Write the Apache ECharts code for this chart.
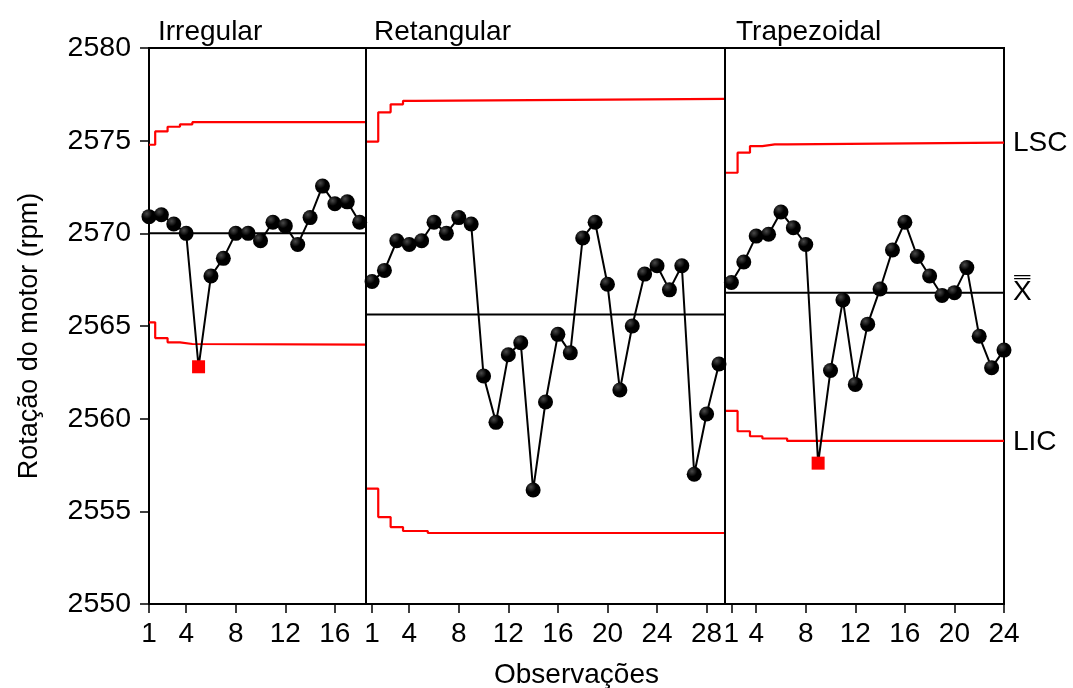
<!DOCTYPE html>
<html><head><meta charset="utf-8">
<script src="https://cdn.jsdelivr.net/npm/echarts@6/dist/echarts.min.js"></script>
<style>html,body{margin:0;padding:0;background:#fff}#c{width:1073px;height:688px}</style>
</head><body><div id="c"></div>
<script>
// ---- data ----
const panelNames = ['Irregular', 'Retangular', 'Trapezoidal'];
const irregular = [2570.9, 2571.0, 2570.5, 2570.0, 2562.8, 2567.7, 2568.65, 2570.0, 2570.0, 2569.6, 2570.6, 2570.4, 2569.4, 2570.85, 2572.55, 2571.6, 2571.7, 2570.6];
const retangular = [2567.4, 2568.0, 2569.6, 2569.4, 2569.6, 2570.6, 2570.0, 2570.85, 2570.5, 2562.3, 2559.8, 2563.45, 2564.1, 2556.15, 2560.9, 2564.55, 2563.55, 2569.75, 2570.6, 2567.25, 2561.55, 2565.0, 2567.8, 2568.25, 2566.95, 2568.25, 2557.0, 2560.25, 2562.95];
const trapezoidal = [2567.35, 2568.45, 2569.85, 2569.95, 2571.15, 2570.3, 2569.4, 2557.6, 2562.6, 2566.4, 2561.85, 2565.1, 2567.0, 2569.1, 2570.6, 2568.75, 2567.7, 2566.65, 2566.8, 2568.15, 2564.45, 2562.75, 2563.7];
const centerLines = [2570.0, 2565.62, 2566.79];
const uclIrregular = [2574.78, 2575.5, 2575.75, 2575.88, 2576.0];
const lclIrregular = [2565.2, 2564.35, 2564.12, 2564.03, 2564.0];
const uclRetangular = [2574.95, 2576.53, 2576.96, 2577.15, 2577.25];
const lclRetangular = [2556.22, 2554.69, 2554.15, 2553.94, 2553.94, 2553.83];
const uclTrapezoidal = [2573.27, 2574.35, 2574.71, 2574.8, 2574.8, 2574.89];
const lclTrapezoidal = [2560.42, 2559.32, 2559.05, 2558.93, 2558.93, 2558.8];
// tick labels: observation number within panel -> label text
const ticksIrregular = {1: '1', 4: '4', 8: '8', 12: '12', 16: '16'};
const ticksRetangular = {1: '1', 4: '4', 8: '8', 12: '12', 16: '16', 20: '20', 24: '24', 28: '28'};
const ticksTrapezoidal = {1: '1', 3: '4', 7: '8', 11: '12', 15: '16', 19: '20', 23: '24'};
const limitNames = {ucl: 'LSC', center: 'X\u033F', lcl: 'LIC'};
const yTitle = 'Rotação do motor (rpm)';
const xTitle = 'Observações';

// ---- build ----
const FONT = 'Liberation Sans, Arial, sans-serif';
const panelsRaw = [
  {name: panelNames[0], data: irregular, ucl: uclIrregular, lcl: lclIrregular, center: centerLines[0], ticks: ticksIrregular},
  {name: panelNames[1], data: retangular, ucl: uclRetangular, lcl: lclRetangular, center: centerLines[1], ticks: ticksRetangular},
  {name: panelNames[2], data: trapezoidal, ucl: uclTrapezoidal, lcl: lclTrapezoidal, center: centerLines[2], ticks: ticksTrapezoidal}
];
let s = 1;
const total = panelsRaw.reduce((a, p) => a + p.data.length, 0);
const xMin = 1, xMax = total;
const panels = panelsRaw.map((p, k) => {
  const start = s; s += p.data.length;
  return Object.assign({}, p, {
    start,
    left: k === 0 ? xMin : start - 0.5,
    right: Math.min(start + p.data.length - 0.5, xMax)
  });
});
const cats = [], catLabels = [];
panels.forEach(p => p.data.forEach((v, i) => {
  cats.push(String(p.start + i));
  catLabels.push(p.ticks[i + 1] || '');
}));

function stepData(vals, p) {
  const d = [[p.left, vals[0]]];
  for (let i = 1; i < vals.length; i++) d.push([p.start + i - 0.5, vals[i]]);
  d.push([p.right, vals[vals.length - 1]]);
  return d;
}
const limAt = (arr, i) => arr[Math.min(i, arr.length - 1)];

const series = [];
const labelStyle = {fontSize: 28, color: '#000', fontFamily: FONT, distance: 9};
panels.forEach((p, k) => {
  const last = k === panels.length - 1;
  ['ucl', 'lcl'].forEach(key => {
    series.push({
      type: 'line', xAxisIndex: 0, step: 'end', symbol: 'none', z: 2,
      data: stepData(p[key], p),
      lineStyle: {color: '#ff0000', width: 2.2},
      endLabel: last ? Object.assign({show: true, formatter: limitNames[key], offset: [0, 1]}, labelStyle) : {show: false}
    });
  });
  series.push({
    type: 'line', xAxisIndex: 0, symbol: 'none', z: 2,
    data: [[p.left, p.center], [p.right, p.center]],
    lineStyle: {color: '#000', width: 2},
    endLabel: last ? Object.assign({show: true, formatter: limitNames.center, offset: [0, -1]}, labelStyle) : {show: false}
  });
  series.push({
    type: 'line', xAxisIndex: 0, z: 4,
    symbol: 'circle', symbolSize: 15,
    lineStyle: {color: '#000', width: 2},
    itemStyle: {color: new echarts.graphic.RadialGradient(0.35, 0.3, 0.7, [{offset: 0, color: '#4a4a4a'}, {offset: 0.5, color: '#000'}, {offset: 1, color: '#000'}])},
    data: p.data.map((v, i) => {
      const out = v > limAt(p.ucl, i) || v < limAt(p.lcl, i);
      return out ? {value: [p.start + i, v], symbol: 'rect', symbolSize: 13, itemStyle: {color: '#ff0000'}} : [p.start + i, v];
    })
  });
});
// panel dividers
series.push({
  type: 'line', xAxisIndex: 0, data: [], silent: true,
  markLine: {
    symbol: 'none', silent: true, label: {show: false},
    lineStyle: {color: '#000', width: 2, type: 'solid'},
    data: panels.slice(1).map(p => ({xAxis: p.left}))
  }
});

const chart = echarts.init(document.getElementById('c'), null, {renderer: 'canvas'});
chart.setOption({
  animation: false,
  backgroundColor: '#fff',
  textStyle: {fontFamily: FONT},
  title: [
    {text: panels[0].name, left: 158, top: 18},
    {text: panels[1].name, left: 374, top: 18},
    {text: panels[2].name, left: 736, top: 18}
  ].map(t => Object.assign(t, {padding: 0, textStyle: {fontSize: 28, fontWeight: 'normal', color: '#000', fontFamily: FONT}})),
  grid: {left: 149, right: 69, top: 48, bottom: 84, show: true, borderColor: '#000', borderWidth: 2, backgroundColor: 'transparent', containLabel: false, outerBoundsMode: 'none'},
  xAxis: [
    {type: 'value', min: xMin, max: xMax, show: false},
    {
      type: 'category', data: cats, boundaryGap: false, position: 'bottom',
      axisLine: {show: true, lineStyle: {color: '#000', width: 2}},
      axisTick: {show: true, length: 9, interval: (i) => catLabels[i] !== '', lineStyle: {color: '#000', width: 1.5}},
      axisLabel: {show: true, interval: (i) => catLabels[i] !== '', formatter: (v, i) => catLabels[i], fontSize: 28, color: '#000', margin: 16, fontFamily: FONT},
      splitLine: {show: false},
      name: xTitle, nameLocation: 'middle', nameGap: 57,
      nameTextStyle: {fontSize: 28, color: '#000', fontFamily: FONT}
    }
  ],
  yAxis: {
    type: 'value', min: 2550, max: 2580, interval: 5,
    axisLine: {show: true, lineStyle: {color: '#000', width: 2}},
    axisTick: {show: true, length: 9, lineStyle: {color: '#000', width: 1.5}},
    axisLabel: {fontSize: 28.5, color: '#000', margin: 18, fontFamily: FONT, formatter: (v) => String(v)},
    splitLine: {show: false},
    name: yTitle, nameLocation: 'middle', nameGap: 106,
    nameTextStyle: {fontSize: 27, color: '#000', fontFamily: FONT, padding: [0, 20, 0, 0]}
  },
  series
});
</script></body></html>
